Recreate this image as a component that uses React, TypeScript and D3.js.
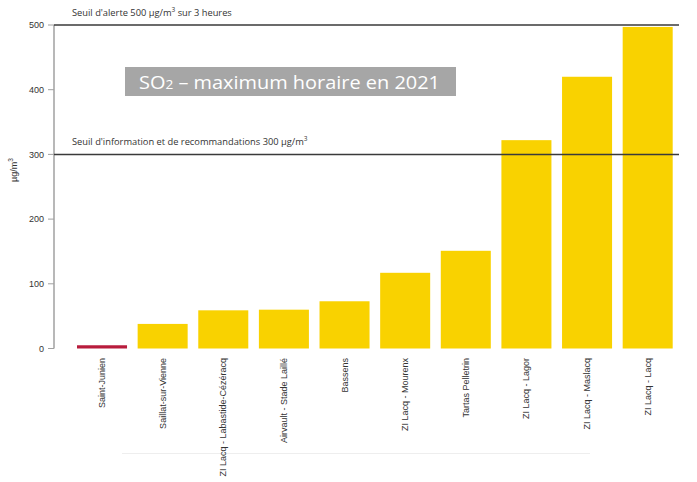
import React from "react";
import * as d3 from "d3";

const stations = [
  "Saint-Junien",
  "Saillat-sur-Vienne",
  "ZI Lacq - Labastide-Cézéracq",
  "Airvault - Stade Laillé",
  "Bassens",
  "ZI Lacq - Mourenx",
  "Tartas Pelletrin",
  "ZI Lacq - Lagor",
  "ZI Lacq - Maslacq",
  "ZI Lacq - Lacq",
];
const values = [5, 38, 59, 60, 73, 117, 151, 322, 420, 497];
const barColors = ["#b81c3c", "#f9d200", "#f9d200", "#f9d200", "#f9d200", "#f9d200", "#f9d200", "#f9d200", "#f9d200", "#f9d200"];
const yTicks = [0, 100, 200, 300, 400, 500];
const thresholds = [500, 300];

const W = 697;
const H = 482;
const axisX = 54;

export default function App() {
  const x = d3
    .scaleBand<string>()
    .domain(stations)
    .range([71.7, 678])
    .paddingInner(0.175)
    .paddingOuter(0.0875);
  const y = d3.scaleLinear().domain([0, 500]).range([348.5, 25]);
  const sans = "'Open Sans', 'DejaVu Sans', sans-serif";
  const arial = "'Liberation Sans', Arial, sans-serif";

  return (
    <svg
      width={W}
      height={H}
      style={{ position: "absolute", left: 0, top: 0, background: "#fff" }}
    >
      {/* bottom faint line */}
      <line x1={122} x2={590} y1={453.5} y2={453.5} stroke="#eeeeee" strokeWidth={1} />

      {/* bars */}
      {stations.map((s, i) => (
        <rect
          key={s}
          x={x(s)}
          y={y(values[i])}
          width={x.bandwidth()}
          height={y(0) - y(values[i])}
          fill={barColors[i]}
        />
      ))}

      {/* y axis */}
      <line x1={axisX} x2={axisX} y1={y(500)} y2={y(0)} stroke="#a0a0a0" strokeWidth={1.5} />
      {yTicks.map((t) => (
        <g key={t}>
          <line x1={axisX - 6} x2={axisX} y1={y(t)} y2={y(t)} stroke="#a0a0a0" strokeWidth={1} />
          <text
            x={axisX - 10}
            y={y(t)}
            dy="0.35em"
            textAnchor="end"
            fontFamily={arial}
            fontSize={9}
            fill="#333"
          >
            {t}
          </text>
        </g>
      ))}
      <text
        transform={`translate(17,${170}) rotate(-90)`}
        textAnchor="middle"
        fontFamily={arial}
        fontSize={9}
        fill="#333"
      >
        µg/m
        <tspan dy={-4} fontSize={6.5}>3</tspan>
      </text>

      {/* thresholds */}
      {thresholds.map((t) => (
        <line key={t} x1={axisX} x2={679} y1={y(t)} y2={y(t)} stroke="#3a3a3a" strokeWidth={1.5} />
      ))}
      <text x={72} y={y(500) - 9} fontFamily={sans} fontSize={9.3} fill="#333">
        Seuil d'alerte 500 µg/m
        <tspan dy={-4} fontSize={6.5}>3</tspan>
        <tspan dy={4}> sur 3 heures</tspan>
      </text>
      <text x={72} y={y(300) - 9} fontFamily={sans} fontSize={9.3} fill="#333">
        Seuil d'information et de recommandations 300 µg/m
        <tspan dy={-4} fontSize={6.5}>3</tspan>
      </text>

      {/* x labels */}
      {stations.map((s) => (
        <text
          key={s}
          transform={`translate(${(x(s) as number) + x.bandwidth() / 2 + 3},${358}) rotate(-90)`}
          textAnchor="end"
          fontFamily={arial}
          fontSize={9}
          fill="#333"
        >
          {s}
        </text>
      ))}

      {/* title box */}
      <rect x={125} y={67} width={331} height={29} fill="#a6a6a6" />
      <text
        x={139}
        y={89}
        fontFamily={sans}
        fontSize={19}
        fill="#ffffff"
        textLength={301}
        lengthAdjust="spacingAndGlyphs"
      >
        SO<tspan fontSize={13}>2</tspan> – maximum horaire en 2021
      </text>
    </svg>
  );
}
